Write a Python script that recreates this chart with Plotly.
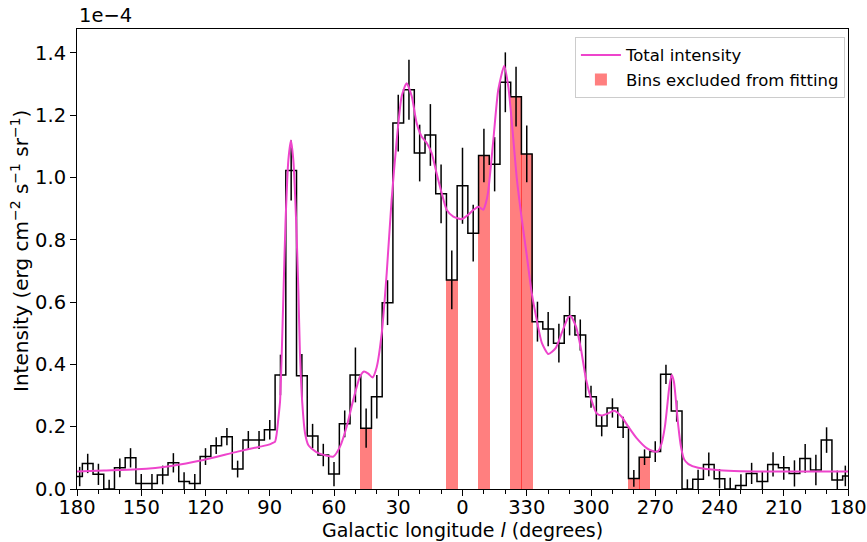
import plotly.graph_objects as go

# ---------------- data (intensity in units of 1e-4 erg cm^-2 s^-1 sr^-1) ----------------
bin_centers = [180, 175, 170, 165, 160, 155, 150, 145, 140, 135, 130, 125, 120, 115, 110, 105,
               100, 95, 90, 85, 80, 75, 70, 65, 60, 55, 50, 45, 40, 35, 30, 25, 20, 15, 10, 5,
               0, -5, -10, -15, -20, -25, -30, -35, -40, -45, -50, -55, -60, -65, -70, -75, -80,
               -85, -90, -95, -100, -105, -110, -115, -120, -125, -130, -135, -140, -145, -150,
               -155, -160, -165, -170, -175, -180]
intensity = [0.040, 0.082, 0.047, 0.0, 0.068, 0.100, 0.018, 0.018, 0.045, 0.084, 0.024, 0.018,
             0.104, 0.139, 0.168, 0.064, 0.157, 0.157, 0.190, 0.366, 1.022, 0.363, 0.170, 0.109,
             0.048, 0.209, 0.366, 0.195, 0.296, 0.598, 1.174, 1.281, 1.078, 1.136, 0.947, 0.671,
             0.973, 0.821, 1.070, 1.042, 1.305, 1.259, 1.075, 0.537, 0.513, 0.468, 0.556, 0.494,
             0.296, 0.202, 0.260, 0.198, 0.034, 0.102, 0.120, 0.368, 0.250, 0.0, 0.031, 0.079,
             0.033, 0.0, 0.011, 0.050, 0.024, 0.079, 0.068, 0.050, 0.098, 0.061, 0.157, 0.029,
             0.042]
errors = [0.031, 0.031, 0.034, 0.030, 0.030, 0.031, 0.030, 0.030, 0.030, 0.031, 0.030, 0.030,
          0.027, 0.027, 0.028, 0.027, 0.029, 0.029, 0.031, 0.065, 0.096, 0.070, 0.039, 0.036,
          0.039, 0.043, 0.088, 0.063, 0.070, 0.072, 0.091, 0.096, 0.091, 0.099, 0.094, 0.094,
          0.122, 0.091, 0.086, 0.087, 0.096, 0.096, 0.091, 0.064, 0.055, 0.062, 0.063, 0.050,
          0.035, 0.033, 0.031, 0.034, 0.027, 0.025, 0.033, 0.031, 0.034, 0.031, 0.031, 0.038,
          0.031, 0.036, 0.036, 0.034, 0.032, 0.039, 0.038, 0.042, 0.046, 0.049, 0.041, 0.030,
          0.033]
excluded_bins = [45, 5, -10, -25, -30, -80, -85]

curve_l = [180, 167.5, 152, 136, 121, 105, 95, 90, 88.3, 87.5, 86.8, 86.0, 85.2, 84.4, 83.6,
           82.6, 81.3, 80.1, 79.0, 77.7, 76.6, 75.9, 74.8, 73.5, 72.0, 69.6, 67.3, 63.4, 60.3,
           57.2, 54.1, 51.0, 47.9, 46.0, 44.0, 42.0, 40.1, 37.7, 35.4, 33.1, 30.7, 28.4, 26.1,
           23.7, 21.4, 19.1, 16.7, 14.4, 12.1, 9.7, 7.4, 4.3, 0.4, -2.7, -5.0, -7.4, -9.7,
           -11.0, -12.0, -14.4, -16.7, -19.5, -21.4, -23.0, -25.3, -27.6, -30.0, -32.3, -34.6,
           -37.0, -40.1, -43.5, -46.3, -49.4, -50.5, -53.0, -55.3, -57.6, -60.0, -62.7, -65.0,
           -68.1, -70.8, -74.3, -77.4, -81.3, -86.0, -89.5, -91.4, -93.0, -94.5, -95.5, -96.6,
           -97.7, -98.7, -99.7, -100.8, -102.0, -103.5, -105.5, -110, -120, -130, -145, -165,
           -180]
curve_v = [0.056, 0.059, 0.063, 0.074, 0.093, 0.120, 0.135, 0.143, 0.149, 0.152, 0.175, 0.225,
           0.280, 0.435, 0.627, 0.864, 1.056, 1.118, 1.056, 0.864, 0.627, 0.435, 0.275, 0.178,
           0.141, 0.125, 0.115, 0.107, 0.104, 0.136, 0.200, 0.286, 0.360, 0.377, 0.370, 0.358,
           0.390, 0.500, 0.692, 0.928, 1.120, 1.260, 1.302, 1.260, 1.174, 1.131, 1.110, 1.078,
           1.013, 0.949, 0.896, 0.874, 0.866, 0.880, 0.895, 0.906, 0.896, 0.920, 0.955, 1.120,
           1.281, 1.358, 1.290, 1.180, 1.000, 0.870, 0.750, 0.630, 0.545, 0.470, 0.433, 0.452,
           0.500, 0.551, 0.555, 0.521, 0.450, 0.355, 0.290, 0.242, 0.236, 0.243, 0.251, 0.232,
           0.200, 0.163, 0.131, 0.120, 0.122, 0.147, 0.200, 0.260, 0.330, 0.366, 0.345, 0.280,
           0.200, 0.136, 0.095, 0.080, 0.068, 0.060, 0.057, 0.056, 0.056, 0.056]

x_tickvals = [180, 150, 120, 90, 60, 30, 0, -30, -60, -90, -120, -150, -180]
x_ticktext = ["180", "150", "120", "90", "60", "30", "0", "330", "300", "270", "240", "210", "180"]
y_tickvals = [0.0, 0.2, 0.4, 0.6, 0.8, 1.0, 1.2, 1.4]

# ---------------- derived geometry ----------------
half = 2.5
lefts = [min(180, c + half) for c in bin_centers]
rights = [max(-180, c - half) for c in bin_centers]
step_x = lefts + [rights[-1]]
step_y = intensity + [intensity[-1]]
mid_x = [(a + b) / 2 for a, b in zip(lefts, rights)]

ex_idx = [bin_centers.index(b) for b in excluded_bins]
ex_x = [bin_centers[i] for i in ex_idx]
ex_y = [intensity[i] for i in ex_idx]

FONT = "DejaVu Sans"
FS = 19.5
fig = go.Figure()

fig.add_trace(go.Bar(
    x=ex_x, y=ex_y, width=5.4,
    marker=dict(color="rgba(255,0,0,0.5)", line=dict(width=0)),
    name="Bins excluded from fitting", legendrank=2,
))
fig.add_trace(go.Scatter(
    x=step_x, y=step_y, mode="lines", line=dict(color="black", width=1.5, shape="hv"),
    showlegend=False, hoverinfo="skip",
))
fig.add_trace(go.Scatter(
    x=mid_x, y=intensity, mode="markers",
    marker=dict(size=1, color="rgba(0,0,0,0)"),
    error_y=dict(type="data", array=errors, color="black", thickness=1.5, width=0),
    showlegend=False, hoverinfo="skip",
))
fig.add_trace(go.Scatter(
    x=curve_l, y=curve_v, mode="lines",
    line=dict(color="#ee44cc", width=2, shape="spline", smoothing=0.6),
    name="Total intensity", legendrank=1,
))

fig.update_layout(
    width=867, height=542,
    margin=dict(l=77, r=19, t=29, b=53, autoexpand=False),
    paper_bgcolor="white", plot_bgcolor="white",
    font=dict(family=FONT, size=FS, color="black"),
    bargap=0,
    legend=dict(
        x=0.996, y=0.983, xanchor="right", yanchor="top",
        bgcolor="rgba(255,255,255,0.9)", bordercolor="#cccccc", borderwidth=1,
        font=dict(family=FONT, size=16.5), tracegroupgap=0, itemwidth=40,
    ),
    showlegend=True,
)
fig.update_xaxes(
    range=[180, -180], tickmode="array", tickvals=x_tickvals, ticktext=x_ticktext,
    ticks="outside", ticklen=6, tickwidth=1, tickcolor="black", ticklabelstandoff=-5,
    showline=True, linecolor="black", linewidth=1, mirror=True,
    showgrid=False, zeroline=False, automargin=False,
    minor=dict(tickmode="linear", tick0=0, dtick=10, ticks="outside", ticklen=3.5,
               tickwidth=1, tickcolor="black", showgrid=False),
    tickfont=dict(size=FS),
)
fig.update_yaxes(
    range=[0, 1.476], tickmode="array", tickvals=y_tickvals,
    ticktext=[f"{v:.1f}" for v in y_tickvals],
    ticks="outside", ticklen=6, tickwidth=1, tickcolor="black",
    showline=True, linecolor="black", linewidth=1, mirror=True,
    showgrid=False, zeroline=False, automargin=False, tickfont=dict(size=FS),
)
fig.add_annotation(text="1e\u22124", xref="paper", yref="paper", x=0, y=1,
                   xanchor="left", yanchor="bottom", yshift=0, showarrow=False,
                   font=dict(size=FS))
fig.add_annotation(text="Intensity (erg cm<sup>\u22122</sup> s<sup>\u22121</sup> sr<sup>\u22121</sup>)",
                   xref="paper", yref="paper", x=0, y=0.5, xanchor="center", yanchor="middle",
                   xshift=-57, yshift=8, textangle=-90, showarrow=False, font=dict(size=20))
fig.add_annotation(text="Galactic longitude <i>l</i> (degrees)",
                   xref="paper", yref="paper", x=0.5, y=0, xanchor="center", yanchor="middle",
                   yshift=-41, showarrow=False, font=dict(size=19))

fig.write_html("out.html", config={"displayModeBar": False},
               post_script="document.body.style.margin='0';document.body.style.overflow='hidden';")
